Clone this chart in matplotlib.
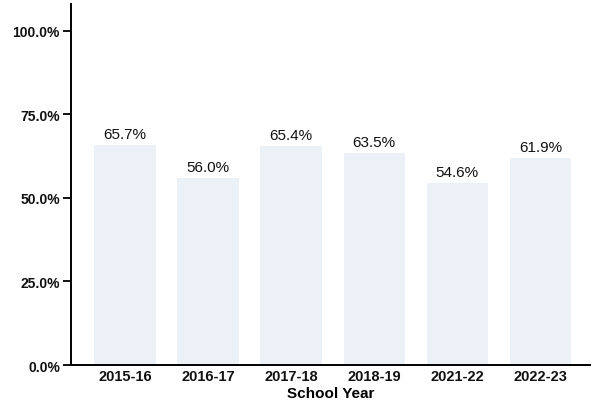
import matplotlib.pyplot as plt
import numpy as np

plt.rcParams['font.family'] = ['Liberation Sans', 'DejaVu Sans']

years = ['2015-16', '2016-17', '2017-18', '2018-19', '2021-22', '2022-23']
rates = [65.7, 56.0, 65.4, 63.5, 54.6, 61.9]
y_ticks = [0, 25, 50, 75, 100]

fig = plt.figure(figsize=(5.92, 4.06), dpi=100)
ax = fig.add_axes([0.12, 0.0985, 0.877, 0.889])

x = np.arange(len(years))
ax.bar(x, rates, width=0.74, color='#ebf1f6', edgecolor='none')

for xi, r in zip(x, rates):
    ax.text(xi, r + 1.2, '{:.1f}%'.format(r), ha='center', va='bottom',
            fontsize=11, color='#111111')

ax.set_xlim(-0.65, 5.6)
ax.set_ylim(0, 108)
ax.set_yticks(y_ticks)
ax.set_yticklabels(['{:.1f}%'.format(t) for t in y_ticks], fontsize=10,
                   fontweight='bold', color='#111111')
ax.set_xticks(x)
ax.set_xticklabels(years, fontsize=10.5, fontweight='bold', color='#111111')
ax.tick_params(axis='x', length=0, pad=3)
ax.tick_params(axis='y', length=6, width=1.3, pad=2)

ax.spines['right'].set_visible(False)
ax.spines['top'].set_visible(False)
ax.spines['left'].set_linewidth(1.4)
ax.spines['bottom'].set_linewidth(1.4)

ax.set_xlabel('School Year', fontsize=11, fontweight='bold', labelpad=2)

fig.savefig('out.png', dpi=100)
